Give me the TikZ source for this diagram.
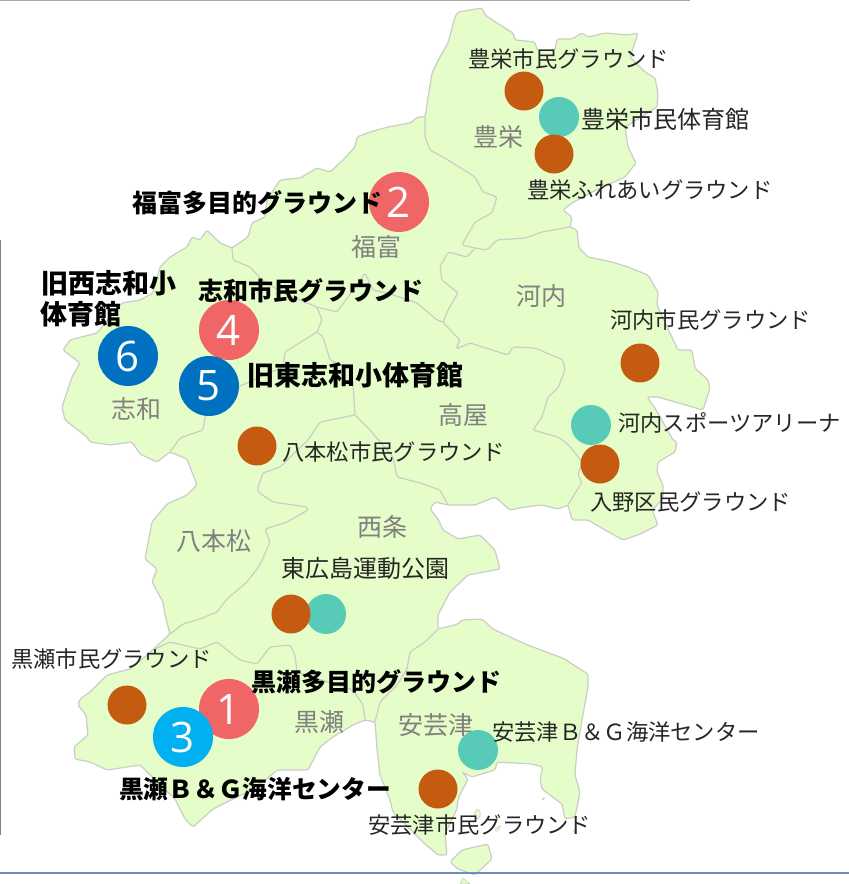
\documentclass[tikz,border=0pt]{standalone}
\usepackage{fontspec}
\setmainfont{Noto Sans CJK JP}
\newfontfamily\numfont{Open Sans}
\definecolor{landc}{HTML}{E5FDC8}
\definecolor{borderc}{HTML}{CBCDC6}
\definecolor{redc}{HTML}{F06565}
\definecolor{bluec}{HTML}{0070C0}
\definecolor{cyanc}{HTML}{00B0F0}
\definecolor{orangec}{HTML}{C55A11}
\definecolor{tealc}{HTML}{57CBB7}
\definecolor{regionc}{HTML}{808080}
\definecolor{framec}{HTML}{6F8DBB}
\tikzset{
  land/.style={fill=landc,draw=borderc,line width=1.2pt,rounded corners=1.6pt,line join=round},
  bound/.style={draw=borderc,line width=1.2pt,rounded corners=1.6pt,line join=round},
  numdot/.style={circle,minimum size=60pt,inner sep=0pt,text=white,font=\numfont\fontsize{42}{42}\selectfont},
  grounddot/.style={circle,fill=orangec,minimum size=39pt,inner sep=0pt},
  halldot/.style={circle,fill=tealc,minimum size=40pt,inner sep=0pt},
  region/.style={inner sep=0pt,text=regionc,font=\fontsize{25}{25}\selectfont},
  biglabel/.style={anchor=west,inner sep=0pt,font=\bfseries\fontsize{25}{25}\selectfont},
  smalllabel/.style={anchor=west,inner sep=0pt,text=black!85,font=\fontsize{22.3}{22.3}\selectfont},
  widelabel/.style={anchor=west,inner sep=0pt,text=black!85,font=\fontsize{24}{24}\selectfont}
}
\begin{document}
\begin{tikzpicture}[x=1pt,y=-1pt]
\useasboundingbox (0,0) rectangle (849,884);
\fill[white] (0,0) rectangle (849,884);
% frame lines
\draw[draw=gray!70,line width=1pt] (0,0.5) -- (690,0.5);
\draw[draw=gray,line width=1pt] (0.5,240) -- (0.5,835);
\fill[landc,draw=borderc,line width=.6pt] (463,878) -- (470,884) -- (460,884) -- cycle;
% land
\draw[land] (458,12) -- (482,8) -- (485,15) -- (497,23) -- (513,33) -- (515,40) -- (535,42) -- (537,50)
 -- (555,50) -- (557,39) -- (572,39) -- (582,33) -- (588,37) -- (605,33) -- (628,35) -- (638,33) -- (630,57)
 -- (645,72) -- (655,78) -- (658,93) -- (657,107) -- (625,127) -- (628,147) -- (636,163) -- (625,177)
 -- (592,192) -- (572,203) -- (563,210) -- (572,217) -- (570,227) -- (577,230) -- (579,248) -- (588,257)
 -- (612,262) -- (628,267) -- (648,275) -- (658,292) -- (657,305) -- (670,333) -- (678,350) -- (692,350)
 -- (695,368) -- (708,380) -- (710,388) -- (703,410) -- (658,397) -- (647,397) -- (655,408) -- (673,440)
 -- (677,442) -- (675,452) -- (658,462) -- (657,472) -- (663,485) -- (663,499) -- (652,510) -- (658,525)
 -- (638,535) -- (623,540) -- (605,530) -- (588,520) -- (572,520) -- (568,505) -- (558,509) -- (542,505)
 -- (525,507) -- (510,510) -- (495,497) -- (475,505) -- (448,505) -- (435,502) -- (430,509) -- (438,519)
 -- (443,530) -- (458,539) -- (480,535) -- (495,550) -- (500,569) -- (468,575) -- (450,592) -- (438,615)
 -- (438,629) -- (458,624) -- (462,620) -- (482,619) -- (493,629) -- (525,644) -- (565,659) -- (572,664)
 -- (588,674) -- (588,687) -- (584,709) -- (577,749) -- (575,775) -- (580,792) -- (575,817) -- (565,819)
 -- (562,804) -- (542,789) -- (540,779) -- (543,767) -- (532,764) -- (497,762) -- (495,770) -- (472,777)
 -- (462,772) -- (468,779) -- (458,799) -- (457,809) -- (445,834) -- (447,855) -- (438,855) -- (425,844)
 -- (393,812) -- (390,800) -- (380,775) -- (377,749) -- (375,722) -- (365,720) -- (353,725) -- (333,737)
 -- (320,747) -- (308,770) -- (277,770) -- (267,779) -- (247,792) -- (213,809) -- (193,827) -- (185,819)
 -- (175,799) -- (140,765) -- (107,770) -- (90,762) -- (75,759) -- (74,747) -- (88,735) -- (86,715)
 -- (78,705) -- (80,699) -- (90,692) -- (107,675) -- (130,669) -- (147,655) -- (170,634) -- (165,615)
 -- (163,602) -- (152,582) -- (157,569) -- (145,559) -- (152,522) -- (167,504) -- (187,495) -- (197,485)
 -- (187,459) -- (170,452) -- (157,462) -- (140,454) -- (132,442) -- (110,445) -- (90,442) -- (87,437)
 -- (65,420) -- (62,407) -- (72,377) -- (80,363) -- (63,350) -- (70,340) -- (97,333) -- (122,303)
 -- (140,300) -- (153,293) -- (160,267) -- (170,257) -- (187,247) -- (192,237) -- (200,240) -- (207,230)
 -- (220,243) -- (232,248) -- (248,237) -- (252,223) -- (265,217) -- (267,200) -- (280,180) -- (300,178)
 -- (317,168) -- (330,172) -- (343,160) -- (355,147) -- (357,137) -- (370,132) -- (388,127) -- (410,123)
 -- (418,117) -- (425,117) -- (432,73) -- (440,57) -- (448,43) -- (455,17) -- cycle;
% island and islets
\draw[land] (450,862) -- (462,850) -- (488,844) -- (492,859) -- (475,875) -- (458,869) -- cycle;
\draw[land,line width=.6pt] (541,800) -- (544,797) -- (545,799) -- cycle;
\draw[land,line width=.6pt] (572,832) -- (576,828) -- (577,832) -- cycle;
\draw[land,line width=.6pt] (474,815) -- (477,808) -- (481,813) -- (478,820) -- cycle;
\draw[land,line width=.6pt] (494,830) -- (501,825) -- (498,832) -- cycle;
% internal boundaries
\draw[bound] (425,117) -- (425,137) -- (430,150) -- (448,160) -- (475,177) -- (483,192) -- (497,197) -- (492,213)
 -- (475,222) -- (462,245) -- (475,248) -- (487,250) -- (497,240) -- (525,238) -- (542,232) -- (570,227);
\draw[bound] (475,248) -- (467,257) -- (448,252) -- (440,267) -- (442,280) -- (458,293) -- (448,310)
 -- (443,322) -- (455,335) -- (460,340) -- (456,349) -- (470,343) -- (508,355) -- (513,347) -- (535,348)
 -- (563,360) -- (565,370) -- (558,388) -- (548,397) -- (542,417) -- (533,430) -- (558,437) -- (565,442)
 -- (572,449) -- (582,462) -- (578,475) -- (582,482) -- (568,505);
\draw[bound] (232,248) -- (233,260) -- (250,267) -- (262,280) -- (283,293) -- (317,307) -- (322,320) -- (317,332)
 -- (285,352) -- (283,367) -- (260,377) -- (238,387);
\draw[bound] (317,307) -- (337,312) -- (353,290) -- (365,273) -- (373,290) -- (387,293) -- (417,303) -- (437,320) -- (443,322);
\draw[bound] (317,332) -- (323,337) -- (330,360) -- (352,370) -- (355,415) -- (320,422) -- (308,440) -- (280,467)
 -- (263,473) -- (258,487) -- (258,492) -- (273,502) -- (307,507) -- (308,510) -- (287,522) -- (265,529)
 -- (270,542) -- (260,565) -- (247,582) -- (227,599) -- (217,612) -- (200,619) -- (183,624) -- (170,634);
\draw[bound] (355,415) -- (370,430) -- (393,457) -- (397,477) -- (420,483) -- (440,490) -- (448,505);
\draw[bound] (238,387) -- (205,417) -- (203,430) -- (180,438) -- (170,452);
\draw[bound] (153,650) -- (170,642) -- (200,649) -- (217,642) -- (240,660) -- (257,664) -- (270,647) -- (290,645)
 -- (295,655) -- (297,672) -- (353,690) -- (363,705) -- (365,720);
\draw[bound] (375,722) -- (380,702) -- (397,685) -- (407,669) -- (410,652) -- (425,642) -- (438,629);
% bottom rule
\draw[draw=framec,line width=1.2pt] (0,873) -- (849,873);
% region names
\node[region] (rFukutomi) at (376,247) {福富};
\node[region] (rToyosaka) at (498,137) {豊栄};
\node[region] (rKouchi) at (541,296) {河内};
\node[region] (rTakaya) at (463,415) {高屋};
\node[region] (rShiwa) at (136,409) {志和};
\node[region] (rHachi) at (214,541) {八本松};
\node[region] (rSaijo) at (382,527) {西条};
\node[region] (rKurose) at (319,722) {黒瀬};
\node[region] (rAki) at (436,725) {安芸津};
% facility dots
\node[halldot] (h1) at (559,117) {};
\node[grounddot] (g1) at (524,91) {};
\node[grounddot] (g2) at (554,154) {};
\node[grounddot] (g3) at (640,363) {};
\node[halldot] (h2) at (591,425) {};
\node[grounddot] (g4) at (600,464) {};
\node[grounddot] (g5) at (257,446) {};
\node[halldot] (h3) at (326,614) {};
\node[grounddot] (g6) at (291,614) {};
\node[grounddot] (g7) at (127,705) {};
\node[halldot] (h4) at (478,750) {};
\node[grounddot] (g8) at (438,789) {};
% numbered dots
\node[numdot,fill=redc] (n2) at (399,202) {2};
\node[numdot,fill=redc] (n4) at (229,330) {4};
\node[numdot,fill=bluec] (n6) at (128,356) {6};
\node[numdot,fill=bluec] (n5) at (209,386) {5};
\node[numdot,fill=redc] (n1) at (229,709) {1};
\node[numdot,fill=cyanc] (n3) at (183,737) {3};
% bold labels
\node[biglabel] (l2) at (132,203) {福富多目的グラウンド};
\node[biglabel] (l4) at (198,291) {志和市民グラウンド};
\node[biglabel,font=\bfseries\fontsize{27}{27}\selectfont] (l6a) at (41,283) {旧西志和小};
\node[biglabel,font=\bfseries\fontsize{27}{27}\selectfont] (l6b) at (40,314) {体育館};
\node[biglabel,font=\bfseries\fontsize{27}{27}\selectfont] (l5) at (247,375) {旧東志和小体育館};
\node[biglabel] (l1) at (251,682) {黒瀬多目的グラウンド};
\node[biglabel,font=\bfseries\fontsize{24.7}{24.7}\selectfont] (l3) at (119,789) {黒瀬Ｂ＆Ｇ海洋センター};
% plain labels
\node[smalllabel] (t1) at (468,59) {豊栄市民グラウンド};
\node[widelabel] (t2) at (581,119) {豊栄市民体育館};
\node[smalllabel] (t3) at (527,190) {豊栄ふれあいグラウンド};
\node[smalllabel] (t4) at (610,320) {河内市民グラウンド};
\node[smalllabel] (t5) at (618,423) {河内スポーツアリーナ};
\node[smalllabel] (t6) at (590,502) {入野区民グラウンド};
\node[smalllabel] (t7) at (282,452) {八本松市民グラウンド};
\node[widelabel] (t8) at (281,568) {東広島運動公園};
\node[smalllabel] (t9) at (11,659) {黒瀬市民グラウンド};
\node[smalllabel] (t10) at (492,732) {安芸津Ｂ＆Ｇ海洋センター};
\node[smalllabel] (t11) at (368,825) {安芸津市民グラウンド};
\end{tikzpicture}
\end{document}
